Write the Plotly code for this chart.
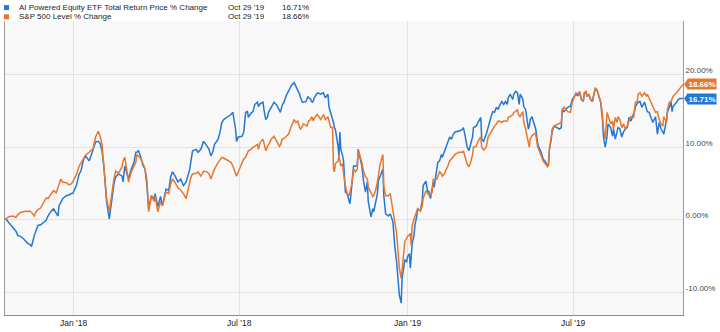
import pandas as pd
import plotly.graph_objects as go

START = "2017-10-18"
# days since fund launch (Oct 18 2017)
DAYS = [
    0, 1, 4, 9, 12, 14, 17, 20, 23, 25,
    27, 29, 32, 34, 36, 39, 41, 45, 47, 50,
    53, 56, 58, 59, 61, 63, 67, 70, 72, 74,
    78, 81, 83, 86, 88, 92, 94, 96, 99, 102,
    104, 106, 108, 110, 111, 114, 117, 119, 121, 124,
    128, 129, 131, 133, 135, 138, 141, 143, 144, 146,
    148, 151, 153, 155, 157, 160, 163, 164, 167, 170,
    172, 176, 179, 181, 183, 186, 189, 192, 195, 198,
    200, 202, 203, 205, 209, 211, 214, 216, 217, 221,
    223, 225, 227, 229, 233, 235, 237, 239, 243, 247,
    249, 250, 252, 253, 255, 259, 261, 263, 265, 266,
    269, 271, 273, 276, 277, 279, 282, 283, 285, 287,
    288, 291, 294, 297, 298, 300, 301, 303, 305, 307,
    310, 313, 316, 318, 320, 322, 323, 325, 326, 329,
    330, 331, 332, 334, 335, 336, 337, 338, 341, 342,
    345, 348, 350, 353, 354, 356, 358, 359, 360, 361,
    364, 365, 366, 367, 369, 370, 372, 374, 376, 377,
    379, 381, 383, 385, 386, 390, 392, 394, 396, 397,
    400, 402, 403, 405, 407, 408, 410, 413, 414, 416,
    419, 421, 424, 425, 426, 428, 430, 431, 433, 434,
    437, 439, 440, 442, 443, 444, 445, 447, 448, 450,
    451, 454, 456, 457, 460, 462, 463, 465, 467, 468,
    469, 472, 473, 475, 477, 478, 480, 483, 484, 486,
    488, 490, 492, 496, 498, 500, 501, 503, 505, 507,
    509, 511, 512, 515, 517, 520, 521, 523, 526, 528,
    531, 533, 535, 537, 539, 540, 543, 545, 547, 549,
    550, 552, 555, 556, 558, 560, 561, 562, 563, 566,
    567, 569, 571, 572, 573, 574, 576, 579, 580, 582,
    583, 586, 588, 591, 593, 594, 595, 597, 598, 600,
    604, 606, 608, 609, 611, 615, 617, 618, 620, 622,
    624, 626, 628, 630, 632, 633, 635, 636, 638, 640,
    642, 643, 645, 647, 648, 651, 653, 654, 656, 658,
    659, 662, 664, 665, 667, 669, 670, 672, 674, 676,
    678, 680, 682, 684, 687, 688, 689, 691, 692, 694,
    696, 699, 701, 702, 704, 706, 708, 711, 713, 715,
    717, 719, 720, 723, 724, 726, 728, 729, 730, 734,
    736, 738, 741,
]

# AI Powered Equity ETF total return, % change
AIEQ = [
    0.0, 0.1, -0.4, -1.2, -1.6, -2.2, -2.3, -2.6, -3.0, -3.3,
    -3.4, -3.7, -2.2, -1.5, -0.8, -0.7, -0.5, -0.1, 0.5, 1.1,
    1.5, 1.0, 0.5, 1.9, 2.5, 2.9, 3.3, 3.4, 3.6, 3.6,
    4.7, 6.3, 6.7, 8.4, 8.8, 8.1, 8.8, 9.5, 10.7, 10.8,
    10.5, 9.5, 7.4, 4.2, 2.5, 0.1, 3.3, 4.9, 5.9, 6.3,
    6.0, 5.2, 7.4, 6.3, 5.6, 7.0, 7.9, 9.3, 9.3, 9.5,
    8.8, 7.4, 7.0, 4.9, 1.5, 3.3, 2.9, 3.6, 1.8, 3.2,
    1.9, 4.2, 4.0, 5.9, 6.6, 6.0, 5.2, 5.6, 4.7, 5.2,
    6.0, 7.0, 7.9, 9.5, 9.7, 9.3, 9.7, 10.7, 10.8, 10.1,
    9.7, 8.8, 9.3, 10.4, 11.1, 12.1, 13.4, 13.8, 14.1, 14.5,
    14.8, 14.2, 12.5, 10.8, 11.4, 11.5, 12.1, 14.8, 14.9, 14.1,
    14.7, 14.9, 15.9, 16.2, 15.6, 16.0, 16.2, 15.2, 13.8, 14.2,
    14.8, 15.5, 16.2, 15.8, 15.5, 14.9, 14.8, 15.8, 16.2, 17.0,
    17.7, 18.5, 18.9, 18.4, 17.9, 17.3, 16.8, 16.2, 16.2, 16.3,
    16.6, 17.0, 16.8, 16.6, 16.3, 16.2, 16.4, 16.8, 17.4, 17.5,
    17.3, 17.5, 16.8, 17.3, 15.6, 14.8, 13.8, 13.4, 12.7, 12.5,
    10.1, 8.8, 12.1, 9.7, 8.8, 8.1, 3.8, 3.6, 2.6, 2.2,
    4.7, 7.4, 7.4, 7.4, 9.7, 7.4, 5.2, 3.8, 5.2, 2.5,
    0.4, 1.5, 1.1, 2.5, 3.6, 5.3, 6.0, 7.0, 3.3, 0.8,
    0.5, 0.8, -0.3, -3.0, -3.7, -5.8, -9.5, -10.4, -11.5, -8.1,
    -5.6, -5.8, -5.1, -4.7, -6.7, -4.4, -3.3, -2.2, -0.8, 0.5,
    1.5, 1.2, 2.6, 4.7, 5.3, 3.8, 4.0, 2.9, 4.5, 5.2,
    4.5, 7.0, 7.9, 8.1, 9.0, 8.6, 9.3, 10.1, 10.4, 11.4,
    11.1, 11.8, 12.1, 12.2, 12.3, 12.5, 12.7, 11.5, 10.1, 9.5,
    10.4, 11.4, 12.7, 12.9, 13.4, 14.1, 11.1, 10.8, 11.8, 12.9,
    14.1, 14.9, 14.8, 15.5, 15.2, 15.6, 16.3, 15.9, 16.3, 15.9,
    16.8, 17.3, 16.6, 17.3, 17.7, 17.5, 16.3, 15.9, 17.3, 16.6,
    15.6, 15.2, 13.4, 12.5, 12.9, 13.8, 14.2, 12.9, 12.5, 10.7,
    10.1, 9.3, 8.4, 7.9, 7.4, 7.7, 9.7, 11.1, 12.2, 12.9,
    12.7, 12.5, 12.7, 15.2, 14.9, 15.5, 15.6, 15.6, 16.6, 17.0,
    17.3, 17.1, 17.5, 16.6, 16.3, 17.3, 17.7, 17.0, 17.3, 16.6,
    16.3, 17.0, 17.9, 17.9, 17.5, 16.2, 13.8, 11.5, 10.0, 11.5,
    13.2, 12.7, 11.5, 12.5, 11.1, 12.2, 12.7, 12.5, 11.4, 12.1,
    12.5, 12.7, 14.1, 13.6, 14.5, 14.9, 15.6, 15.9, 16.2, 16.3,
    15.5, 16.2, 15.2, 14.9, 14.8, 14.1, 13.4, 14.2, 11.8, 13.4,
    12.5, 12.1, 11.8, 13.8, 14.8, 15.5, 16.2, 14.9, 15.6, 16.2,
    16.6, 16.7, 16.71,
]

# S&P 500 level, % change
SPX = [
    0.0, 0.1, 0.4, 0.5, 0.3, 0.7, 1.0, 1.1, 1.2, 1.1,
    1.2, 1.0, 0.5, 1.1, 1.4, 1.6, 2.1, 3.0, 2.9, 3.4,
    4.0, 3.7, 4.5, 4.8, 5.6, 5.2, 5.1, 4.8, 4.9, 5.2,
    6.2, 7.4, 7.8, 8.4, 8.9, 9.3, 9.6, 9.7, 11.4, 12.2,
    11.5, 10.4, 7.7, 4.7, 2.9, 1.1, 4.2, 5.6, 6.7, 6.4,
    7.3, 8.1, 8.6, 7.0, 5.2, 6.6, 7.4, 7.9, 9.0, 8.8,
    8.5, 7.7, 7.0, 5.6, 1.1, 3.3, 2.5, 3.2, 1.1, 2.5,
    1.9, 3.8, 3.6, 4.9, 5.6, 5.1, 4.4, 4.1, 3.6, 2.9,
    4.0, 5.3, 5.8, 6.3, 6.4, 6.6, 6.0, 6.4, 6.7, 6.6,
    6.3, 5.6, 6.3, 7.0, 7.9, 8.2, 8.6, 8.5, 8.2, 7.9,
    7.4, 7.0, 6.3, 6.0, 6.6, 7.9, 8.4, 8.6, 9.3, 9.5,
    9.7, 10.0, 10.1, 10.4, 9.7, 10.7, 11.1, 10.4, 9.5, 10.1,
    10.3, 11.1, 11.5, 10.8, 10.5, 10.1, 10.3, 11.1, 11.2, 11.5,
    11.8, 12.9, 13.8, 13.4, 13.6, 12.7, 12.5, 12.9, 13.2, 13.0,
    12.9, 13.3, 13.6, 13.8, 14.2, 14.0, 13.6, 14.0, 14.5, 14.4,
    13.8, 14.5, 13.8, 14.2, 13.6, 12.7, 12.7, 7.0, 6.6, 7.7,
    8.1, 8.8, 8.1, 7.4, 7.7, 6.3, 4.7, 3.6, 3.3, 3.8,
    4.9, 7.0, 6.6, 7.0, 9.7, 7.9, 6.6, 5.9, 5.6, 4.5,
    3.6, 3.2, 3.3, 4.0, 5.2, 6.0, 7.7, 9.0, 4.7, 3.3,
    3.3, 3.6, 1.5, 0.5, -0.3, -1.9, -5.3, -6.7, -8.1, -6.7,
    -3.0, -2.6, -2.3, -2.1, -1.9, -3.6, -0.8, 0.1, 0.4, 1.2,
    1.5, 1.2, 1.9, 2.9, 4.0, 3.6, 3.4, 3.4, 3.8, 5.6,
    5.5, 5.6, 6.0, 6.6, 6.3, 6.0, 6.3, 7.0, 7.4, 8.1,
    8.4, 8.8, 9.0, 9.3, 9.3, 9.3, 9.5, 8.4, 7.7, 7.3,
    7.9, 9.0, 10.0, 10.1, 10.8, 11.4, 10.0, 9.6, 10.0, 11.4,
    12.1, 12.5, 12.9, 13.2, 13.6, 13.6, 13.4, 13.6, 13.6, 13.6,
    14.1, 14.2, 14.5, 14.8, 14.9, 15.2, 14.5, 14.4, 14.2, 14.9,
    13.4, 12.5, 11.1, 10.8, 10.0, 11.1, 11.6, 11.9, 11.8, 10.1,
    9.7, 8.8, 8.1, 7.7, 7.3, 7.5, 9.7, 11.4, 12.5, 12.9,
    13.2, 13.3, 13.4, 15.2, 15.5, 14.9, 14.8, 14.8, 16.2, 16.8,
    17.5, 17.3, 17.7, 16.6, 16.3, 17.5, 17.7, 17.0, 17.3, 16.6,
    16.3, 16.8, 18.2, 17.9, 17.5, 16.3, 14.5, 12.7, 11.1, 14.8,
    14.4, 13.2, 13.6, 12.5, 14.1, 13.4, 14.2, 13.8, 12.7, 13.2,
    12.5, 12.9, 13.6, 14.2, 14.1, 15.2, 16.2, 16.3, 17.3, 17.5,
    17.0, 17.5, 17.0, 17.3, 16.6, 16.2, 15.6, 14.8, 14.9, 13.8,
    13.2, 12.9, 14.2, 13.4, 15.2, 16.2, 16.3, 16.8, 17.0, 17.5,
    17.8, 18.2, 18.66,
]

assert len(DAYS) == len(AIEQ) == len(SPX), (len(DAYS), len(AIEQ), len(SPX))

NAMES = ["AI Powered Equity ETF Total Return Price % Change", "S&P 500 Level % Change"]
LAST_DATE_LABEL = "Oct 29 '19"
COLORS = ["#2577d4", "#e8772e"]
Y_TICKS = [-10, 0, 10, 20]
Y_TICKTEXT = [f"{v:.2f}%" for v in Y_TICKS]
X_TICKS = ["2018-01-01", "2018-07-01", "2019-01-01", "2019-07-01"]
X_TICKTEXT = ["Jan '18", "Jul '18", "Jan '19", "Jul '19"]

dates = pd.Timestamp(START) + pd.to_timedelta(DAYS, unit="D")
FONT = "Liberation Sans, Arial, Helvetica, sans-serif"

fig = go.Figure()
for name, vals, col in zip(NAMES, [AIEQ, SPX], COLORS):
    fig.add_trace(go.Scatter(x=dates, y=vals, mode="lines", name=name,
                             line=dict(color=col, width=1.5), showlegend=False,
                             hoverinfo="skip"))

fig.update_layout(
    width=720, height=332,
    margin=dict(l=4, r=37, t=21, b=15),
    paper_bgcolor="white", plot_bgcolor="#f8f8f8",
    font=dict(family=FONT, color="#333"),
    xaxis=dict(range=[dates[0], dates[-1]], tickvals=X_TICKS, ticktext=X_TICKTEXT,
               showgrid=True, gridcolor="#e2e2e2", gridwidth=1, zeroline=False,
               showline=True, linecolor="#8a8a8a", linewidth=1,
               ticks="", tickfont=dict(size=8.5, color="#222")),
    yaxis=dict(range=[-13.15, 27.4], side="right", tickmode="array",
               tickvals=Y_TICKS, ticktext=Y_TICKTEXT,
               showgrid=True, gridcolor="#e2e2e2", gridwidth=1, zeroline=False,
               showline=True, linecolor="#9a9a9a", linewidth=1, mirror=True,
               ticks="", ticklabelshift=-4, ticklabelstandoff=0,
               tickfont=dict(size=8, color="#444")),
)

# header legend
row_y = [1.0456, 1.0142]
for i, (name, vals, col) in enumerate(zip(NAMES, [AIEQ, SPX], COLORS)):
    fig.add_shape(type="rect", xref="paper", yref="paper", xsizemode="pixel", ysizemode="pixel",
                  xanchor=0, yanchor=row_y[i], x0=-1, x1=4, y0=-2.5, y1=2.5,
                  fillcolor=col, line=dict(width=0))
    fig.add_annotation(xref="paper", yref="paper", x=0, y=row_y[i], xshift=12,
                       xanchor="left", yanchor="middle", showarrow=False,
                       text=name, font=dict(size=8, color="#222"))
    fig.add_annotation(xref="paper", yref="paper", x=0.3255, y=row_y[i],
                       xanchor="left", yanchor="middle", showarrow=False,
                       text=LAST_DATE_LABEL, font=dict(size=8, color="#222"))
    fig.add_annotation(xref="paper", yref="paper", x=0.405, y=row_y[i],
                       xanchor="left", yanchor="middle", showarrow=False,
                       text=f"{vals[-1]:.2f}%", font=dict(size=8, color="#222"))
    # last value tag on the right axis
    fig.add_shape(type="path", xref="paper", yref="y", xsizemode="pixel", ysizemode="pixel",
                  xanchor=1, yanchor=vals[-1], path="M 1 0 L 5 5.5 L 5 -5.5 Z",
                  fillcolor=col, line=dict(width=0))
    fig.add_annotation(xref="paper", yref="y", x=1, y=vals[-1], xshift=4,
                       xanchor="left", yanchor="middle", showarrow=False,
                       text=f"<b>{vals[-1]:.2f}%</b>", bgcolor=col, borderpad=0.5,
                       font=dict(size=8, color="white"))

fig.write_html("out.html")
